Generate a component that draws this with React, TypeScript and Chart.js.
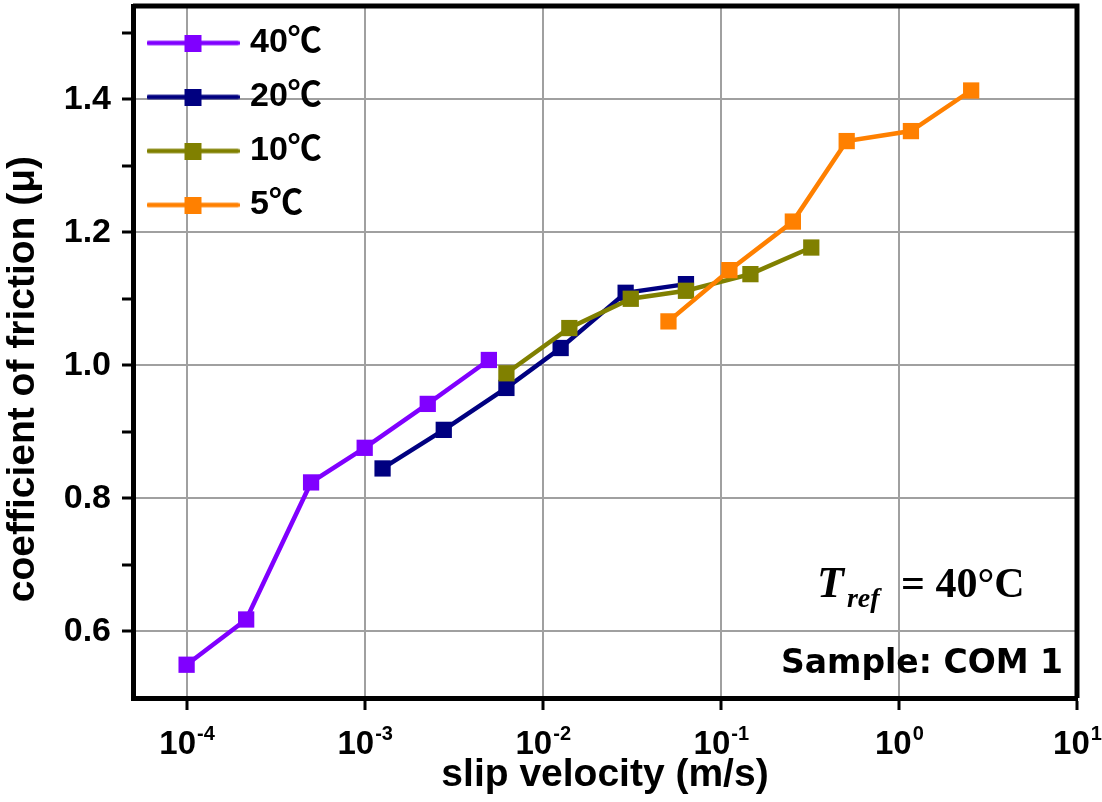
import React, { useEffect, useRef } from 'react';
import { Chart, registerables } from 'chart.js';

Chart.register(...registerables);

// ---------------- data ----------------
const seriesLabels = ['40℃', '20℃', '10℃', '5℃'];
const seriesColors = ['#8000ff', '#000080', '#808000', '#ff8000'];

const v40 = [1.0e-4, 2.16e-4, 5.0e-4, 1.0e-3, 2.26e-3, 4.98e-3];
const mu40 = [0.55, 0.618, 0.824, 0.876, 0.942, 1.008];
const v20 = [1.26e-3, 2.78e-3, 6.25e-3, 1.26e-2, 2.92e-2, 6.37e-2];
const mu20 = [0.845, 0.903, 0.966, 1.026, 1.109, 1.122];
const v10 = [6.25e-3, 1.41e-2, 3.12e-2, 6.37e-2, 0.1466, 0.322];
const mu10 = [0.988, 1.056, 1.1, 1.112, 1.137, 1.177];
const v5 = [5.08e-2, 0.1117, 0.2537, 0.509, 1.168, 2.545];
const mu5 = [1.066, 1.143, 1.216, 1.337, 1.352, 1.413];

const xTickValues = [1e-4, 1e-3, 1e-2, 1e-1, 1, 10];
const xTickExponents = ['-4', '-3', '-2', '-1', '0', '1'];
const yLabelTicks = [0.6, 0.8, 1.0, 1.2, 1.4];
const yMinorTicks = [0.7, 0.9, 1.1, 1.3, 1.5];

const xTitle = 'slip velocity (m/s)';
const yTitle = 'coefficient of friction (μ)';
const sampleText = 'Sample: COM 1';

const SANS = "'Liberation Sans', Arial, 'Noto Sans CJK KR', sans-serif";
const LEGEND_FONT = "'Liberation Sans', 'Noto Sans CJK KR', sans-serif";
const SERIF = "'Liberation Serif', 'Times New Roman', serif";

function makeLegendIcon(color: string): HTMLCanvasElement {
  const c = document.createElement('canvas');
  c.width = 93;
  c.height = 17;
  const g = c.getContext('2d')!;
  g.strokeStyle = color;
  g.lineWidth = 4.5;
  g.lineCap = 'round';
  g.beginPath();
  g.moveTo(2, 8.5);
  g.lineTo(91, 8.5);
  g.stroke();
  g.fillStyle = color;
  g.fillRect(38, 0, 17, 17);
  return c;
}

const framePlugin = {
  id: 'frame',
  beforeDatasetsDraw(chart: any) {
    const { ctx, chartArea } = chart;
    ctx.save();
    ctx.strokeStyle = '#000';
    ctx.lineWidth = 5;
    ctx.beginPath();
    ctx.moveTo(chartArea.left, chartArea.top);
    ctx.lineTo(chartArea.right, chartArea.top);
    ctx.lineTo(chartArea.right, chartArea.bottom);
    ctx.stroke();
    ctx.restore();
  },
};

const xLabelPlugin = {
  id: 'xPowLabels',
  afterDraw(chart: any) {
    const { ctx } = chart;
    const xs = chart.scales.x;
    ctx.save();
    ctx.fillStyle = '#000';
    ctx.textBaseline = 'alphabetic';
    ctx.textAlign = 'left';
    xs.ticks.forEach((t: any, i: number) => {
      const px = xs.getPixelForValue(t.value);
      const exp = xTickExponents[i];
      ctx.font = `bold 33px ${SANS}`;
      const w1 = ctx.measureText('10').width;
      ctx.font = `bold 20px ${SANS}`;
      const w2 = ctx.measureText(exp).width;
      const x0 = px - (w1 + w2) / 2;
      ctx.font = `bold 33px ${SANS}`;
      ctx.fillText('10', x0, 754);
      ctx.font = `bold 20px ${SANS}`;
      ctx.fillText(exp, x0 + w1 + 1, 740);
    });
    ctx.restore();
  },
};

const notePlugin = {
  id: 'notes',
  afterDraw(chart: any) {
    const { ctx, chartArea } = chart;
    ctx.save();
    ctx.fillStyle = '#000';
    ctx.textBaseline = 'alphabetic';
    // T_ref = 40°C
    const bx = chartArea.right - 260;
    ctx.textAlign = 'left';
    ctx.font = `italic bold 44px ${SERIF}`;
    ctx.fillText('T', bx, 597);
    const wT = ctx.measureText('T').width;
    ctx.font = `italic bold 28px ${SERIF}`;
    ctx.fillText('ref', bx + wT + 3, 607);
    ctx.font = `bold 42px ${SERIF}`;
    ctx.fillText('= 40°C', bx + 84, 597);
    // sample
    ctx.textAlign = 'right';
    ctx.font = `bold 33px 'DejaVu Sans', ${SANS}`;
    ctx.fillText(sampleText, chartArea.right - 14, 673);
    ctx.restore();
  },
};

export default function App() {
  const ref = useRef<HTMLCanvasElement | null>(null);

  useEffect(() => {
    if (!ref.current) return;
    const xsAll = [v40, v20, v10, v5];
    const ysAll = [mu40, mu20, mu10, mu5];
    const icons = seriesColors.map(makeLegendIcon);

    const chart = new Chart(ref.current, {
      type: 'line',
      data: {
        datasets: seriesLabels.map((label, i) => ({
          label,
          data: xsAll[i].map((x, j) => ({ x, y: ysAll[i][j] })),
          borderColor: seriesColors[i],
          backgroundColor: seriesColors[i],
          borderWidth: 4.5,
          pointStyle: 'rect',
          pointRadius: 11.5,
          pointHoverRadius: 11.5,
          pointBorderWidth: 0,
          tension: 0,
          fill: false,
          clip: false,
          order: 4 - i,
        })),
      },
      options: {
        responsive: false,
        animation: false,
        events: [],
        layout: { autoPadding: false, padding: { top: 6, right: 25, left: 0, bottom: 0 } },
        plugins: {
          tooltip: { enabled: false },
          legend: {
            display: true,
            position: 'chartArea',
            fullSize: false,
            align: 'start',
            title: { display: true, text: '', font: { size: 6, lineHeight: 1 }, padding: 0 },
            labels: {
              usePointStyle: true,
              pointStyleWidth: 80,
              padding: 20,
              color: '#000',
              font: { size: 34, weight: 'bold', family: LEGEND_FONT },
              sort: (a: any, b: any) => a.datasetIndex - b.datasetIndex,
              generateLabels: (c: any) => {
                const items = (Chart as any).defaults.plugins.legend.labels.generateLabels(c);
                return items.map((it: any) => ({ ...it, pointStyle: icons[it.datasetIndex] }));
              },
            },
          },
        },
        scales: {
          x: {
            type: 'logarithmic',
            min: 5e-5,
            max: 10,
            bounds: 'data',
            afterBuildTicks: (s: any) => {
              s.ticks = xTickValues.map((value) => ({ value }));
            },
            afterFit: (s: any) => {
              s.height = 104;
              s.paddingLeft = 0;
              s.paddingRight = 0;
              s.paddingTop = 0;
              s.paddingBottom = 0;
            },
            ticks: { display: false },
            grid: {
              color: '#a0a0a0',
              lineWidth: 2,
              tickColor: '#000',
              tickWidth: 3,
              tickLength: 12,
              drawTicks: true,
            },
            border: { display: true, color: '#000', width: 5 },
            title: {
              display: true,
              text: xTitle,
              color: '#000',
              font: { size: 39, weight: 'bold', family: SANS, lineHeight: 1.2 },
              padding: { top: 0, bottom: 3 },
            },
          },
          y: {
            type: 'linear',
            min: 0.5,
            max: 1.54,
            bounds: 'data',
            afterBuildTicks: (s: any) => {
              s.ticks = [...yLabelTicks, ...yMinorTicks]
                .sort((a, b) => a - b)
                .map((value) => ({ value }));
            },
            afterFit: (s: any) => {
              s.width = 133;
              s.paddingTop = 0;
              s.paddingBottom = 0;
              s.paddingLeft = 0;
              s.paddingRight = 0;
            },
            ticks: {
              color: '#000',
              padding: 11,
              includeBounds: false,
              font: { size: 34, weight: 'bold', family: SANS },
              callback: (v: any) => (yLabelTicks.includes(v) ? Number(v).toFixed(1) : ''),
            },
            grid: {
              color: (ctx: any) =>
                ctx.tick && yLabelTicks.includes(ctx.tick.value) ? '#a0a0a0' : 'rgba(0,0,0,0)',
              lineWidth: 2,
              tickColor: '#000',
              tickWidth: 3,
              tickLength: 11,
              drawTicks: true,
            },
            border: { display: true, color: '#000', width: 5 },
            title: {
              display: true,
              text: yTitle + '     ',
              color: '#000',
              font: { size: 39, weight: 'bold', family: SANS, lineHeight: 1.2 },
              padding: { top: 0, bottom: 0 },
            },
          },
        },
      } as any,
      plugins: [framePlugin, xLabelPlugin, notePlugin],
    });
    return () => chart.destroy();
  }, []);

  return (
    <div style={{ position: 'fixed', left: 0, top: 0, width: 1102, height: 802, background: '#fff' }}>
      <canvas ref={ref} width={1102} height={802} style={{ display: 'block' }} />
    </div>
  );
}
